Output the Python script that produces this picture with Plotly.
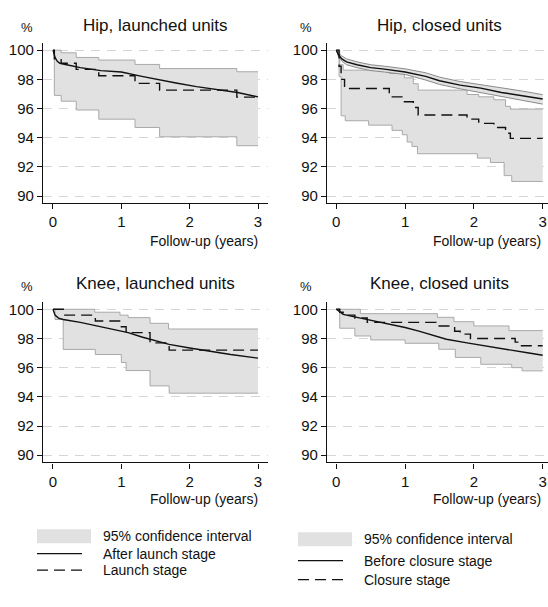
import plotly.graph_objects as go

# ---------------- data ----------------
# Hip, launched units
hl_ci_up_t = [0, 0.12, 0.34, 0.67, 1.2, 1.56, 2.69, 3.0]
hl_ci_up = [100, 99.82, 99.5, 99.32, 99.02, 98.74, 98.52, 98.52]
hl_ci_lo_t = [0, 0.02, 0.12, 0.34, 0.67, 1.2, 1.56, 2.69, 3.0]
hl_ci_lo = [100, 96.9, 96.5, 95.9, 95.27, 94.7, 94.06, 93.45, 93.45]
hl_stage_t = [0, 0.02, 0.12, 0.34, 0.67, 1.2, 1.56, 2.69, 3.0]
hl_stage = [100, 99.4, 99.1, 98.68, 98.25, 97.72, 97.26, 96.78, 96.78]
hl_after_t = [0, 0.03, 0.06, 0.1, 0.2, 0.4, 0.7, 1.0, 1.3, 1.5, 1.8, 2.1, 2.4, 2.7, 3.0]
hl_after = [100, 99.5, 99.25, 99.1, 99.0, 98.8, 98.6, 98.5, 98.2, 98.0, 97.75, 97.5, 97.3, 97.1, 96.8]

# Hip, closed units
hc_before_t = [0, 0.03, 0.08, 0.15, 0.3, 0.5, 0.7, 1.0, 1.3, 1.5, 1.8, 2.1, 2.4, 2.7, 3.0]
hc_before = [100, 99.7, 99.4, 99.2, 99.0, 98.8, 98.7, 98.5, 98.2, 97.9, 97.6, 97.4, 97.1, 96.9, 96.65]
hc_before_up = [100, 99.8, 99.6, 99.4, 99.2, 99.0, 98.9, 98.72, 98.45, 98.15, 97.85, 97.65, 97.4, 97.2, 96.95]
hc_before_lo = [100, 99.6, 99.25, 99.0, 98.8, 98.6, 98.5, 98.33, 97.95, 97.65, 97.35, 97.1, 96.8, 96.6, 96.3]
hc_stage_t = [0, 0.04, 0.07, 0.12, 0.77, 0.99, 1.12, 1.19, 1.9, 2.07, 2.29, 2.46, 2.53, 3.0]
hc_stage = [100, 98.9, 98.0, 97.37, 96.8, 96.46, 96.07, 95.55, 95.27, 94.98, 94.7, 94.3, 93.95, 93.95]
hc_ci_up_t = [0, 0.05, 0.1, 0.77, 0.99, 1.12, 1.19, 1.9, 2.07, 2.29, 2.46, 2.53, 3.0]
hc_ci_up = [100, 99.0, 98.63, 98.4, 98.1, 97.7, 97.26, 96.96, 96.8, 96.6, 96.15, 95.96, 95.96]
hc_ci_lo_t = [0, 0.04, 0.07, 0.13, 0.47, 0.81, 0.96, 1.03, 1.1, 1.18, 2.05, 2.24, 2.44, 2.55, 3.0]
hc_ci_lo = [100, 98.2, 95.5, 95.16, 94.86, 94.5, 94.2, 93.7, 93.4, 92.9, 92.6, 92.3, 91.4, 91.0, 91.0]

# Knee, launched units
kl_ci_up_t = [0, 0.61, 0.98, 1.1, 1.42, 1.69, 3.0]
kl_ci_up = [100, 99.8, 99.6, 99.43, 99.04, 98.65, 98.65]
kl_ci_lo_t = [0, 0.03, 0.15, 0.62, 1.0, 1.07, 1.42, 1.7, 3.0]
kl_ci_lo = [100, 99.3, 97.25, 96.9, 96.35, 95.8, 94.75, 94.25, 94.25]
kl_stage_t = [0, 0.15, 0.62, 1.0, 1.07, 1.42, 1.7, 3.0]
kl_stage = [100, 99.6, 99.2, 98.8, 98.4, 97.7, 97.2, 97.2]
kl_after_t = [0, 0.03, 0.08, 0.15, 0.4, 0.6, 0.9, 1.1, 1.3, 1.5, 1.7, 2.0, 2.3, 2.6, 3.0]
kl_after = [100, 99.6, 99.4, 99.3, 99.1, 98.9, 98.6, 98.4, 98.1, 97.85, 97.6, 97.35, 97.1, 96.9, 96.65]

# Knee, closed units
kc_before_t = [0, 0.05, 0.1, 0.3, 0.5, 0.8, 1.0, 1.2, 1.4, 1.6, 1.9, 2.2, 2.5, 2.8, 3.0]
kc_before = [100, 99.8, 99.65, 99.45, 99.25, 99.0, 98.75, 98.5, 98.25, 97.95, 97.7, 97.45, 97.25, 97.0, 96.85]
kc_stage_t = [0, 0.05, 0.1, 0.27, 0.45, 1.45, 1.72, 1.8, 1.95, 2.6, 2.68, 3.0]
kc_stage = [100, 99.8, 99.6, 99.4, 99.1, 98.85, 98.5, 98.3, 98.0, 97.75, 97.5, 97.5]
kc_ci_up_t = [0, 0.35, 1.47, 1.71, 2.0, 2.51, 3.0]
kc_ci_up = [100, 99.7, 99.45, 99.15, 98.86, 98.54, 98.54]
kc_ci_lo_t = [0, 0.05, 0.27, 0.5, 1.0, 1.49, 1.73, 2.1, 2.55, 2.7, 3.0]
kc_ci_lo = [100, 98.7, 98.17, 97.9, 97.67, 97.26, 96.7, 96.23, 96.0, 95.78, 95.78]

titles = ["Hip, launched units", "Hip, closed units", "Knee, launched units", "Knee, closed units"]
x_ticks = [0, 1, 2, 3]
y_ticks = [90, 92, 94, 96, 98, 100]
legend_left = ["95% confidence interval", "After launch stage", "Launch stage"]
legend_right = ["95% confidence interval", "Before closure stage", "Closure stage"]

# ---------------- figure ----------------
W, H = 548, 607
FONT = "Liberation Sans, Arial, sans-serif"
FILL = "#e1e1e1"
EDGE = "#a9a9a9"
DASH = "11px,6px"

fig = go.Figure()


def add_band(t_up, v_up, t_lo, v_lo, xa, ya, shape="hv", edge=EDGE):
    fig.add_trace(go.Scatter(x=t_up, y=v_up, mode="lines", xaxis=xa, yaxis=ya,
                             line=dict(color=edge, width=1, shape=shape),
                             showlegend=False, hoverinfo="skip"))
    fig.add_trace(go.Scatter(x=t_lo, y=v_lo, mode="lines", xaxis=xa, yaxis=ya,
                             fill="tonexty", fillcolor=FILL,
                             line=dict(color=edge, width=1, shape=shape),
                             showlegend=False, hoverinfo="skip"))


def add_line(t, v, xa, ya, dashed=False, shape="linear"):
    fig.add_trace(go.Scatter(x=t, y=v, mode="lines", xaxis=xa, yaxis=ya,
                             line=dict(color="#111111", width=1.4, shape=shape,
                                       dash=DASH if dashed else "solid"),
                             showlegend=False, hoverinfo="skip"))


# panel 1
add_band(hl_ci_up_t, hl_ci_up, hl_ci_lo_t, hl_ci_lo, "x", "y")
add_line(hl_stage_t, hl_stage, "x", "y", dashed=True, shape="hv")
add_line(hl_after_t, hl_after, "x", "y")
# panel 2
add_band(hc_ci_up_t, hc_ci_up, hc_ci_lo_t, hc_ci_lo, "x2", "y2")
add_band(hc_before_t, hc_before_up, hc_before_t, hc_before_lo, "x2", "y2", shape="linear", edge="#8a8a8a")
add_line(hc_stage_t, hc_stage, "x2", "y2", dashed=True, shape="hv")
add_line(hc_before_t, hc_before, "x2", "y2")
# panel 3
add_band(kl_ci_up_t, kl_ci_up, kl_ci_lo_t, kl_ci_lo, "x3", "y3")
add_line(kl_stage_t, kl_stage, "x3", "y3", dashed=True, shape="hv")
add_line(kl_after_t, kl_after, "x3", "y3")
# panel 4
add_band(kc_ci_up_t, kc_ci_up, kc_ci_lo_t, kc_ci_lo, "x4", "y4")
add_line(kc_stage_t, kc_stage, "x4", "y4", dashed=True, shape="hv")
add_line(kc_before_t, kc_before, "x4", "y4")


def px(p):
    return p / W


def py(p):
    return 1 - p / H


# panel geometry in pixels
cols = [dict(x0=43, x1=268, rng=[-0.146, 3.146]),
        dict(x0=327, x1=548, rng=[-0.135, 3.077])]
rows = [dict(y0=42, y1=203), dict(y0=302, y1=463)]

layout = dict(width=W, height=H, margin=dict(l=0, r=0, t=0, b=0),
              paper_bgcolor="white", plot_bgcolor="white",
              font=dict(family=FONT, color="#111111", size=15))

annotations = []
k = 0
for r, row in enumerate(rows):
    for c, col in enumerate(cols):
        k += 1
        sx = "" if k == 1 else str(k)
        layout["xaxis" + sx] = dict(domain=[px(col["x0"]), px(col["x1"])], range=col["rng"],
                                    anchor="y" + sx, tickvals=x_ticks, ticks="outside", ticklen=5,
                                    tickwidth=1.2, tickcolor="#111", showline=True, linecolor="#111",
                                    linewidth=1.3, showgrid=False, zeroline=False,
                                    tickfont=dict(size=15), fixedrange=True)
        layout["yaxis" + sx] = dict(domain=[py(row["y1"]), py(row["y0"])], range=[89.5, 100.5],
                                    anchor="x" + sx, tickvals=y_ticks, ticks="outside", ticklen=5,
                                    tickwidth=1.2, tickcolor="#111", showline=True, linecolor="#111",
                                    linewidth=1.3, showgrid=True, gridcolor="#d6d6d6", gridwidth=1,
                                    griddash="9px,7px", zeroline=False, tickfont=dict(size=15),
                                    fixedrange=True)
        cx_title = 155.5 if c == 0 else 439.5
        y_title = 25 if r == 0 else 283
        annotations.append(dict(text=titles[k - 1], x=px(cx_title), y=py(y_title), xref="paper",
                                yref="paper", showarrow=False, xanchor="center", yanchor="middle",
                                font=dict(size=17)))
        annotations.append(dict(text="%", x=px(27 if c == 0 else 306), y=py(27 if r == 0 else 286),
                                xref="paper", yref="paper", showarrow=False, xanchor="center",
                                yanchor="middle", font=dict(size=13)))
        annotations.append(dict(text="Follow-up (years)", x=px(260 if c == 0 else 543),
                                y=py(241 if r == 0 else 500), xref="paper", yref="paper",
                                showarrow=False, xanchor="right", yanchor="middle",
                                font=dict(size=14)))

# legends (drawn as shapes + text)
shapes = []
legend_specs = [
    dict(labels=legend_left, sx0=37, sx1=91, lx1=82, tx=101, rows=[537, 554.5, 571]),
    dict(labels=legend_right, sx0=298, sx1=352, lx1=343, tx=362, rows=[540, 561.5, 580.5]),
]
for spec in legend_specs:
    r0, r1, r2 = spec["rows"]
    shapes.append(dict(type="rect", xref="paper", yref="paper", x0=px(spec["sx0"]), x1=px(spec["sx1"]),
                       y0=py(r0 + 7), y1=py(r0 - 7), fillcolor=FILL, line=dict(width=0)))
    shapes.append(dict(type="line", xref="paper", yref="paper", x0=px(spec["sx0"]), x1=px(spec["lx1"]),
                       y0=py(r1), y1=py(r1), line=dict(color="#111", width=1.4)))
    shapes.append(dict(type="line", xref="paper", yref="paper", x0=px(spec["sx0"]), x1=px(spec["lx1"] + 1),
                       y0=py(r2), y1=py(r2), line=dict(color="#111", width=1.4, dash=DASH)))
    for lab, yy in zip(spec["labels"], spec["rows"]):
        annotations.append(dict(text=lab, x=px(spec["tx"]), y=py(yy), xref="paper", yref="paper",
                                showarrow=False, xanchor="left", yanchor="middle",
                                font=dict(size=14)))

layout["annotations"] = annotations
layout["shapes"] = shapes
fig.update_layout(**layout)

fig.write_html("out.html", config={"displayModeBar": False},
               post_script="document.body.style.margin='0';document.body.style.overflow='hidden';")
